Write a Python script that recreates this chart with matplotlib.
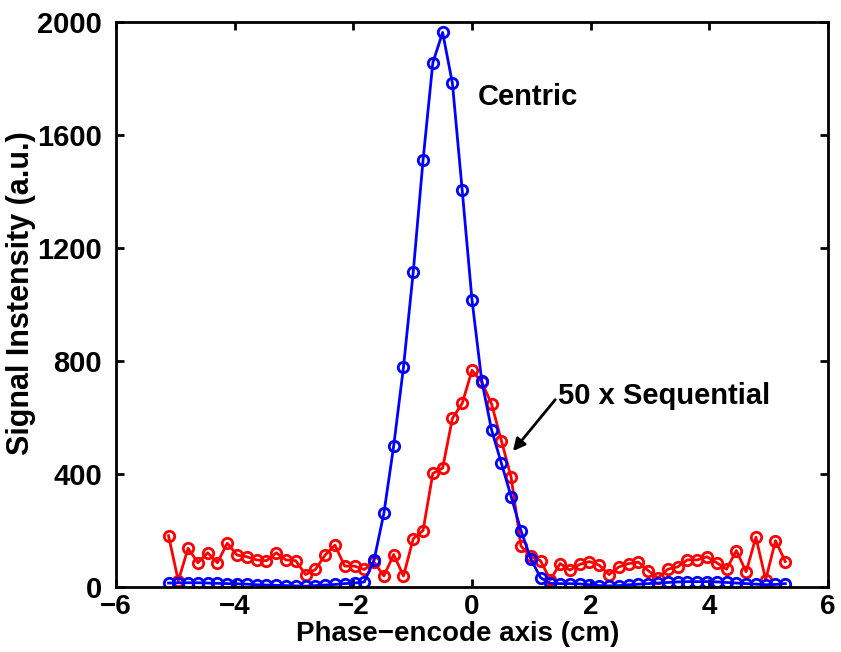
import numpy as np
import matplotlib
matplotlib.use("Agg")
import matplotlib.pyplot as plt

plt.rcParams['font.family'] = ['Liberation Sans', 'DejaVu Sans']
plt.rcParams['font.weight'] = 'bold'

# Sample index along the phase-encode axis (64 samples, centre sample at index 31)
sample_index = np.arange(64)
centre_index = 31
pixel_cm = 0.165

centric = [14, 15, 15, 15, 14, 13, 12, 11, 10, 8, 7, 6, 5, 4, 3, 5, 7, 9, 12, 14,
           18, 96, 261, 499, 778, 1116, 1511, 1856, 1963, 1783, 1404, 1016, 729, 556,
           438, 320, 200, 100, 33, 13, 12, 12, 11, 8, 5, 4, 5, 8, 10, 12, 14, 16, 18,
           19, 19, 19, 18, 16, 14, 12, 10, 8, 9, 12]

sequential_x50 = [182, 22, 137, 86, 121, 86, 155, 113, 107, 96, 93, 121, 96, 93, 44, 62,
                  113, 148, 74, 74, 62, 88, 39, 115, 39, 171, 200, 402, 421, 597, 650,
                  767, 725, 648, 518, 388, 145, 108, 93, 25, 83, 60, 80, 90, 77, 44, 71,
                  83, 88, 58, 32, 63, 71, 96, 96, 107, 86, 63, 129, 54, 176, 26, 164, 90]

x_ticks = [-6, -4, -2, 0, 2, 4, 6]
x_tick_labels = ['\u22126', '\u22124', '\u22122', '0', '2', '4', '6']
y_ticks = [0, 400, 800, 1200, 1600, 2000]

x = (sample_index - centre_index) * pixel_cm

fig = plt.figure(figsize=(8.41, 6.52), dpi=100)
ax = fig.add_axes([116/841, 65/652, (828-116)/841, (587-22)/652])

mk = dict(marker='o', markersize=7.5, markerfacecolor='none', markeredgewidth=2.0)
ax.plot(x, sequential_x50, color='red', linewidth=2.0, **mk)
ax.plot(x, centric, color='blue', linewidth=2.0, **mk)

ax.set_xlim(-6, 6)
ax.set_ylim(0, 2000)
ax.set_xticks(x_ticks)
ax.set_yticks(y_ticks)
ax.set_xticklabels(x_tick_labels)
ax.tick_params(direction='in', length=6, width=2, top=True, right=True)
ax.tick_params(axis='y', pad=10, labelsize=21)
ax.tick_params(axis='x', pad=5, labelsize=20)
for lab in ax.get_xticklabels() + ax.get_yticklabels():
    lab.set_fontweight('bold')
for s in ax.spines.values():
    s.set_linewidth(2.0)

ax.set_xlabel('Phase\u2212encode axis (cm)', fontsize=20, fontweight='bold')
ax.set_ylabel('Signal Instensity (a.u.)', fontsize=22, fontweight='bold')
ax.xaxis.set_label_coords(0.48, -0.06)
ax.yaxis.set_label_coords(-0.113, 0.52)

ax.text(0.1, 1735, 'Centric', fontsize=21, fontweight='bold', va='center', ha='left')
ax.annotate('50 x Sequential', xy=(0.69, 481), xytext=(1.45, 675),
            fontsize=21, fontweight='bold', va='center', ha='left',
            arrowprops=dict(arrowstyle='-|>', color='black', lw=2,
                            shrinkA=0, shrinkB=0, mutation_scale=18,
                            relpos=(0.0, 0.5)))

fig.savefig('out.png', dpi=100)
